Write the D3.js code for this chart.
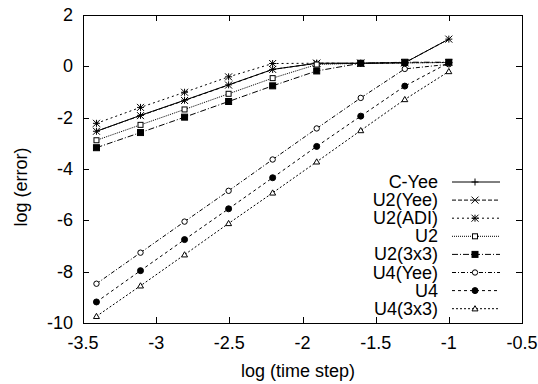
<!DOCTYPE html>
<html><head><meta charset="utf-8">
<script src="https://cdn.jsdelivr.net/npm/d3@7"></script>
<style>body{margin:0;background:#fff}svg{display:block}text{font-family:"Liberation Sans",Arial,sans-serif;fill:#000}</style>
</head><body><svg id="c" width="538" height="384"></svg>
<script>
const logDt = [-3.408, -3.107, -2.806, -2.505, -2.204, -1.903, -1.602, -1.301, -1.0];
const cYee   = [-2.53, -1.91, -1.32, -0.72, -0.12, 0.12, 0.12, 0.14, 1.06];
const u2Yee  = [-2.53, -1.92, -1.33, -0.73, -0.12, 0.12, 0.12, 0.14, 1.06];
const u2ADI  = [-2.22, -1.60, -1.01, -0.41, 0.11, 0.12, 0.12, 0.14, 0.15];
const u2     = [-2.88, -2.28, -1.68, -1.07, -0.46, 0.07, 0.12, 0.13, 0.15];
const u2_3x3 = [-3.17, -2.58, -1.98, -1.37, -0.76, -0.18, 0.12, 0.16, 0.16];
const u4Yee  = [-8.47, -7.26, -6.05, -4.85, -3.63, -2.42, -1.23, -0.10, 0.08];
const u4     = [-9.18, -7.96, -6.75, -5.55, -4.34, -3.12, -1.94, -0.77, 0.14];
const u4_3x3 = [-9.74, -8.55, -7.34, -6.12, -4.93, -3.72, -2.50, -1.29, -0.20];
const xTicks = [-3.5, -3, -2.5, -2, -1.5, -1, -0.5];
const yTicks = [2, 0, -2, -4, -6, -8, -10];

const series = [
  {name:"C-Yee",    y:cYee,   dash:null,          mark:"plus"},
  {name:"U2(Yee)",  y:u2Yee,  dash:"4,2",         mark:"cross"},
  {name:"U2(ADI)",  y:u2ADI,  dash:"2,3",         mark:"star"},
  {name:"U2",       y:u2,     dash:"1,1",         mark:"sqOpen"},
  {name:"U2(3x3)",  y:u2_3x3, dash:"6,2,1,2",     mark:"sqFill"},
  {name:"U4(Yee)",  y:u4Yee,  dash:"4,2,1,2",     mark:"cirOpen"},
  {name:"U4",       y:u4,     dash:"3,3",         mark:"cirFill"},
  {name:"U4(3x3)",  y:u4_3x3, dash:"2,2",         mark:"triOpen"}
];

const L=83,R=522,T=15,B=323;
const svg=d3.select("#c");
const x=d3.scaleLinear().domain([-3.5,-0.5]).range([L,R]);
const y=d3.scaleLinear().domain([-10,2]).range([B,T]);

// ticks (inward, mirrored)
const tl=6;
const g=svg.append("g").attr("stroke","#000").attr("stroke-width",1);
xTicks.forEach(v=>{
  const px=Math.round(x(v))+0.5;
  g.append("line").attr("x1",px).attr("x2",px).attr("y1",B).attr("y2",B-tl);
  g.append("line").attr("x1",px).attr("x2",px).attr("y1",T).attr("y2",T+tl);
});
yTicks.forEach(v=>{
  const py=Math.round(y(v))+0.5;
  g.append("line").attr("x1",L).attr("x2",L+tl).attr("y1",py).attr("y2",py);
  g.append("line").attr("x1",R).attr("x2",R-tl).attr("y1",py).attr("y2",py);
});
svg.append("rect").attr("x",L+0.5).attr("y",T+0.5).attr("width",R-L).attr("height",B-T)
  .attr("fill","none").attr("stroke","#000");

svg.selectAll(".xt").data(xTicks).enter().append("text")
  .attr("x",d=>x(d)).attr("y",B+26).attr("text-anchor","middle").attr("font-size",18).text(d=>d);
svg.selectAll(".yt").data(yTicks).enter().append("text")
  .attr("x",73).attr("y",d=>y(d)+6).attr("text-anchor","end").attr("font-size",18).text(d=>d);

svg.append("text").attr("x",298).attr("y",377).attr("text-anchor","middle").attr("font-size",18).text("log (time step)");
svg.append("text").attr("transform","translate(27,187) rotate(-90)").attr("text-anchor","middle").attr("font-size",18).text("log (error)");

function marker(sel,type,cx,cy){
  const gg=sel.append("g").attr("transform",`translate(${cx},${cy})`).attr("stroke","#000").attr("stroke-width",1);
  const s=3.5;
  if(type==="plus"||type==="star"){
    gg.append("line").attr("x1",-s).attr("x2",s).attr("y1",0).attr("y2",0);
    gg.append("line").attr("x1",0).attr("x2",0).attr("y1",-s).attr("y2",s);
  }
  if(type==="cross"||type==="star"){
    gg.append("line").attr("x1",-s).attr("x2",s).attr("y1",-s).attr("y2",s);
    gg.append("line").attr("x1",-s).attr("x2",s).attr("y1",s).attr("y2",-s);
  }
  if(type==="sqOpen") gg.append("rect").attr("x",-2.5).attr("y",-2.5).attr("width",5).attr("height",5).attr("fill","#fff");
  if(type==="sqFill") gg.append("rect").attr("x",-3).attr("y",-3).attr("width",6).attr("height",6).attr("fill","#000");
  if(type==="cirOpen") gg.append("circle").attr("r",2.7).attr("fill","#fff");
  if(type==="cirFill") gg.append("circle").attr("r",3).attr("fill","#000");
  if(type==="triOpen") gg.append("path").attr("d","M0,-3L3,2.2L-3,2.2Z").attr("fill","#fff");
}

const line=d3.line().x(d=>x(d[0])).y(d=>y(d[1]));
series.forEach(s=>{
  const pts=logDt.map((v,i)=>[v,s.y[i]]);
  svg.append("path").attr("d",line(pts)).attr("fill","none").attr("stroke","#000").attr("stroke-width",1)
    .attr("stroke-dasharray",s.dash);
});
series.forEach(s=>{
  logDt.forEach((v,i)=>marker(svg,s.mark,x(v),y(s.y[i])));
});

// legend
const ly0=182, lstep=18.1;
series.forEach((s,i)=>{
  const yy=ly0+i*lstep;
  svg.append("text").attr("x",438).attr("y",yy+6).attr("text-anchor","end").attr("font-size",18).text(s.name);
  svg.append("line").attr("x1",452).attr("x2",500).attr("y1",yy).attr("y2",yy)
    .attr("stroke","#000").attr("stroke-width",1).attr("stroke-dasharray",s.dash);
  marker(svg,s.mark,475,yy);
});
</script></body></html>
